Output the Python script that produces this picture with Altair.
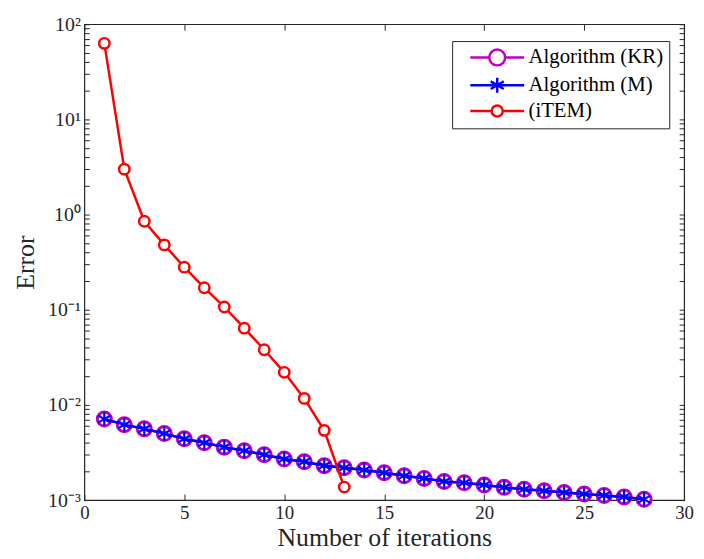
import altair as alt
import pandas as pd

FONT = "Liberation Serif"

series_names = ["Algorithm (KR)", "Algorithm (M)", "(iTEM)"]
series_colors = ["#BF00BF", "#0000FF", "#FF0000"]

iter_alg = list(range(1, 29))
err_kr = [0.0071, 0.0062, 0.0056, 0.0050, 0.0044, 0.0040, 0.0036, 0.0033, 0.0030, 0.0027,
          0.00253, 0.0023, 0.00219, 0.00207, 0.00194, 0.0018, 0.00169, 0.00157, 0.00152, 0.00144,
          0.00136, 0.0013, 0.00125, 0.0012, 0.00116, 0.00112, 0.00108, 0.00102]
err_m = [0.0071, 0.0062, 0.0056, 0.0050, 0.0044, 0.0040, 0.0036, 0.0033, 0.0030, 0.0027,
         0.00253, 0.0023, 0.00219, 0.00207, 0.00194, 0.0018, 0.00169, 0.00157, 0.00152, 0.00144,
         0.00136, 0.0013, 0.00125, 0.0012, 0.00116, 0.00112, 0.00108, 0.00102]
iter_item = list(range(1, 14))
err_item = [63, 3.0, 0.85, 0.48, 0.28, 0.17, 0.107, 0.064, 0.038, 0.022, 0.0117, 0.0054, 0.00137]

x_ticks = [0, 5, 10, 15, 20, 25, 30]
y_major = [0.001, 0.01, 0.1, 1, 10, 100]
y_major_labels = ["10⁻³", "10⁻²", "10⁻¹", "10⁰", "10¹", "10²"]
y_minor_mult = [2, 3, 4, 5, 6, 7, 8, 9]

y_ticks = list(y_major)
for k in y_major[:-1]:
    for m in y_minor_mult:
        y_ticks.append(float(f"{m * k:.6g}"))

label_expr = ""
for v, lab in zip(y_major, y_major_labels):
    label_expr += f"datum.value == {v} ? '{lab}' : "
label_expr += "''"

CIRCLE = "circle"
ASTERISK = "M0,-1L0,1M-0.866,-0.5L0.866,0.5M-0.866,0.5L0.866,-0.5"

# legend symbols: line + marker (unit = 8px)
LEG_KR = "M-3.4,0L-1,0M1,0L3.4,0M-1,0A1,1 0 1,1 1,0A1,1 0 1,1 -1,0"
LEG_M = "M-3.4,0L3.4,0M0,-0.95L0,0.95M-0.82,-0.475L0.82,0.475M-0.82,0.475L0.82,-0.475"
LEG_ITEM = "M-3.4,0L-0.7,0M0.7,0L3.4,0M-0.7,0A0.7,0.7 0 1,1 0.7,0A0.7,0.7 0 1,1 -0.7,0"
legend_paths = [LEG_KR, LEG_M, LEG_ITEM]

frames = {
    series_names[0]: pd.DataFrame({"x": iter_alg, "y": err_kr}),
    series_names[1]: pd.DataFrame({"x": iter_alg, "y": err_m}),
    series_names[2]: pd.DataFrame({"x": iter_item, "y": err_item}),
}

xs = alt.Scale(domain=[0, 30], nice=False, zero=False)
ys = alt.Scale(type="log", domain=[0.001, 100], nice=False)

INK = "#262626"

x_axis = alt.Axis(values=x_ticks, title="Number of iterations", grid=False, domain=False,
                  tickSize=alt.ExprRef(expr="-6"), labelPadding=10, labelFontSize=19,
                  titleFontSize=26, titlePadding=2, labelFont=FONT, titleFont=FONT,
                  titleFontWeight="normal", labelColor=INK, titleColor=INK,
                  tickColor=INK, labelFlush=False)
y_axis = alt.Axis(values=y_ticks, title="Error", grid=False, domain=False,
                  tickSize=alt.ExprRef(expr="-5"), labelPadding=9, labelFontSize=20,
                  titleFontSize=26, titlePadding=9, labelFont=FONT, titleFont=FONT,
                  titleFontWeight="normal", labelColor=INK, titleColor=INK,
                  tickColor=INK, labelExpr=label_expr, labelOverlap=False,
                  labelFlush=False)

X = alt.X("x:Q", scale=xs, axis=x_axis)
Y = alt.Y("y:Q", scale=ys, axis=y_axis)

layers = []
# KR
layers.append(alt.Chart(frames[series_names[0]]).mark_line(color=series_colors[0], strokeWidth=2.5)
              .encode(x=X, y=Y))
layers.append(alt.Chart(frames[series_names[0]]).mark_point(shape=CIRCLE, size=200, filled=True,
              fill="white", stroke=series_colors[0], strokeWidth=3, opacity=1).encode(x=X, y=Y))
# M
layers.append(alt.Chart(frames[series_names[1]]).mark_line(color=series_colors[1], strokeWidth=2.5)
              .encode(x=X, y=Y))
layers.append(alt.Chart(frames[series_names[1]]).mark_point(shape=ASTERISK, size=210, filled=False,
              color=series_colors[1], strokeWidth=2.2, opacity=1).encode(x=X, y=Y))
# iTEM
layers.append(alt.Chart(frames[series_names[2]]).mark_line(color=series_colors[2], strokeWidth=2.5)
              .encode(x=X, y=Y))
layers.append(alt.Chart(frames[series_names[2]]).mark_point(shape=CIRCLE, size=110, filled=True,
              fill="white", stroke=series_colors[2], strokeWidth=2.5, opacity=1).encode(x=X, y=Y))

legend_df = pd.DataFrame({"series": series_names, "x": [None] * 3, "y": [None] * 3})
leg = alt.Legend(title=None, symbolOpacity=1)
layers.append(alt.Chart(legend_df).mark_point(filled=False, strokeWidth=2.5, opacity=1).encode(
    x=X, y=Y,
    shape=alt.Shape("series:N", scale=alt.Scale(domain=series_names, range=legend_paths), legend=leg),
    stroke=alt.Stroke("series:N", scale=alt.Scale(domain=series_names, range=series_colors), legend=leg),
))

main = alt.layer(*layers)

x_axis2 = alt.Axis(orient="top", values=x_ticks, labels=False, title=None, grid=False, domain=False,
                   tickSize=alt.ExprRef(expr="-6"), tickColor=INK)
y_axis2 = alt.Axis(orient="right", values=y_ticks, labels=False, title=None, grid=False, domain=False,
                   tickSize=alt.ExprRef(expr="-5"), tickColor=INK)
axes2 = alt.Chart(frames[series_names[2]]).mark_point(opacity=0).encode(
    x=alt.X("x:Q", scale=xs, axis=x_axis2),
    y=alt.Y("y:Q", scale=ys, axis=y_axis2),
)

chart = alt.layer(main, axes2).resolve_scale(x="independent", y="independent").properties(
    width=605, height=480, background="white",
    autosize=alt.AutoSizeParams(type="none"),
    padding={"left": 77, "top": 14, "right": 12, "bottom": 49},
).configure_view(stroke=INK, strokeWidth=1.2).configure_legend(
    orient="none", legendX=371, legendY=17, fillColor="white", strokeColor=INK,
    padding=6, labelFont=FONT, labelFontSize=21, labelColor="black", symbolSize=256,
    symbolStrokeWidth=2.5, symbolOffset=29, labelOffset=21, rowPadding=1,
)

chart.save("out.html", embed_options={"renderer": "svg", "actions": False})
